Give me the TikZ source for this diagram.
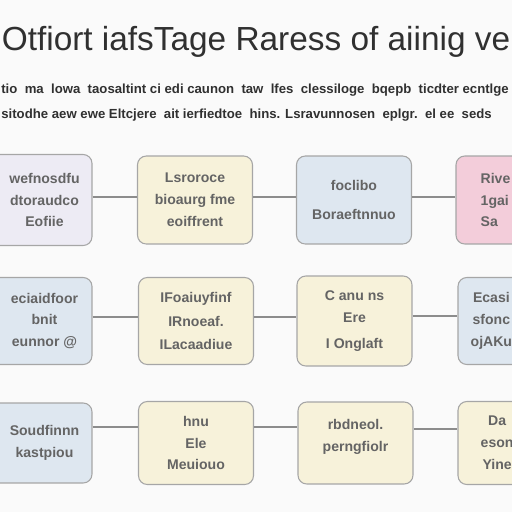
\documentclass[tikz,border=0pt]{standalone}
\usepackage{fontspec}
\setmainfont{Liberation Sans}
\usetikzlibrary{positioning}
\definecolor{boxline}{HTML}{A6A6A6}
\definecolor{boxtext}{HTML}{646464}
\definecolor{linkgray}{HTML}{8C8C8C}
\definecolor{titlegray}{HTML}{303030}
\definecolor{lavfill}{HTML}{EDEBF4}
\definecolor{creamfill}{HTML}{F7F2DA}
\definecolor{bluefill}{HTML}{DEE7F0}
\definecolor{pinkfill}{HTML}{F3CDDA}
\tikzset{
  boxlabel/.style={align=center, text=boxtext,
    font=\fontsize{8}{12.5}\selectfont\bfseries},
  block/.style={boxlabel, draw=boxline, line width=0.6pt, rounded corners=5pt,
    minimum width=2.3cm},
  lav/.style={block, fill=lavfill},
  cream/.style={block, fill=creamfill},
  pale/.style={block, fill=bluefill},
  rose/.style={block, fill=pinkfill},
  link/.style={draw=linkgray, line width=0.8pt},
  heading/.style={text=titlegray, font=\fontsize{19}{22}\selectfont},
  intro/.style={text=titlegray, anchor=west, inner sep=0pt,
    font=\fontsize{7.5}{9}\selectfont\bfseries}
}
\begin{document}
\begin{tikzpicture}[x=0.02cm, y=-0.02cm]
  \useasboundingbox (0,0) rectangle (512,512);
  \clip (0,0) rectangle (512,512);
  \fill[white!98!black] (0,0) rectangle (512,512);

  % heading and intro
  \node[heading, anchor=base] (title) at (256,50) {Otfiort iafsTage Raress of aiinig ve};
  \node[intro] (line1) at (1,90) {tio\ \ ma\ \ lowa\ \ taosaltint ci edi caunon\ \ taw\ \ lfes\ \ clessiloge\ \ bqepb\ \ ticdter\ ecntlge};
  \node[intro] (line2) at (1,115) {sitodhe\ aew ewe Eltcjere\ \ ait ierfiedtoe\ \ hins. Lsravunnosen\ \ eplgr.\ \ el ee\ \ seds};

  % first row
  \node[lav, minimum height=1.82cm] (a1) at (34.5,200) {};
  \node[boxlabel] (a1txt) at ([xshift=0.2cm]a1.center) {wefnosdfu\\ dtoraudco\\ Eofiie};
  \node[cream, minimum height=1.76cm] (a2) at (195,200) {Lsroroce\\ bioaurg fme\\ eoiffrent};
  \node[pale, minimum height=1.76cm] (a3) at (354,200) {foclibo\\[4pt] Boraeftnnuo};
  \node[rose, minimum height=1.76cm] (a4) at (513.5,200) {};
  \node[boxlabel, anchor=west, align=left] (a4txt) at ([xshift=0.38cm]a4.west) {Rive\\ 1gai\\ Sa};

  % second row
  \node[pale, minimum height=1.74cm] (b1) at (34.5,321) {};
  \node[boxlabel] (b1txt) at ([xshift=0.2cm]b1.center) {eciaidfoor\\ bnit\\ eunnor @};
  \node[cream, minimum height=1.74cm] (b2) at (196,321) {IFoaiuyfinf\\[1pt] IRnoeaf.\\[1pt] ILacaadiue};
  \node[cream, minimum height=1.80cm] (b3) at (354.5,321) {C anu ns\\ Ere\\[2pt] I Onglaft};
  \node[pale, minimum height=1.74cm] (b4) at (515.5,321) {};
  \node[boxlabel, anchor=west, align=center] (b4txt) at ([xshift=0.14cm]b4.west) {Ecasi\\ sfonc\\ ojAKu};

  % third row
  \node[pale, minimum height=1.60cm] (c1) at (34.5,443) {};
  \node[boxlabel] (c1txt) at ([xshift=0.2cm]c1.center) {Soudfinnn\\ kastpiou};
  \node[cream, minimum height=1.66cm] (c2) at (196,443) {hnu\\ Ele\\ Meuiouo};
  \node[cream, minimum height=1.64cm] (c3) at (355.5,443) {rbdneol.\\ perngfiolr\\[-4pt]\mbox{}};
  \node[cream, minimum height=1.66cm] (c4) at (515.5,443) {};
  \node[boxlabel, anchor=west, align=center] (c4txt) at ([xshift=0.34cm]c4.west) {Da\\ eson\\ Yine};

  % connectors
  \draw[link] ([yshift=0.06cm]a1.east) -- ([yshift=0.06cm]a1.east -| a2.west);
  \draw[link] ([yshift=0.06cm]a2.east) -- ([yshift=0.06cm]a2.east -| a3.west);
  \draw[link] ([yshift=0.06cm]a3.east) -- ([yshift=0.06cm]a3.east -| a4.west);
  \draw[link] ([yshift=0.08cm]b1.east) -- ([yshift=0.08cm]b1.east -| b2.west);
  \draw[link] ([yshift=0.08cm]b2.east) -- ([yshift=0.08cm]b2.east -| b3.west);
  \draw[link] ([yshift=0.10cm]b3.east) -- ([yshift=0.10cm]b3.east -| b4.west);
  \draw[link] ([yshift=0.32cm]c1.east) -- ([yshift=0.32cm]c1.east -| c2.west);
  \draw[link] ([yshift=0.32cm]c2.east) -- ([yshift=0.32cm]c2.east -| c3.west);
  \draw[link] ([yshift=0.28cm]c3.east) -- ([yshift=0.28cm]c3.east -| c4.west);
\end{tikzpicture}
\end{document}
